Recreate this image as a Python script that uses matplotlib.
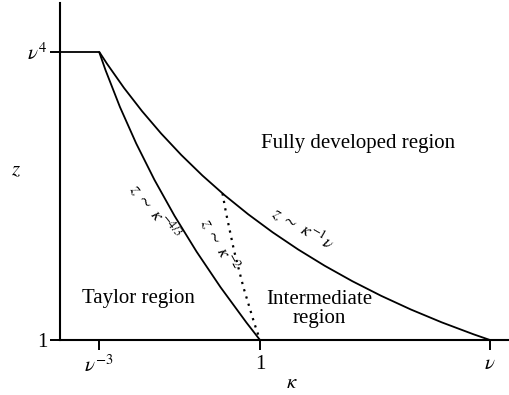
import matplotlib
matplotlib.use("Agg")
import matplotlib.pyplot as plt
from matplotlib.path import Path
from matplotlib.patches import PathPatch

plt.rcParams["font.family"] = ["Liberation Serif", "DejaVu Serif"]
plt.rcParams["mathtext.fontset"] = "stix"

# schematic positions on the kappa / z axes (not to scale)
KAPPA_TICKS = [0.39, 2.0, 4.30]
KAPPA_LABELS = [r"$\nu^{-3}$", "1", r"$\nu$"]
Z_TICKS = [0.0, 2.885]
Z_LABELS = ["1", r"$\nu^4$"]

# quadratic Bezier (start, control, end) for each boundary
PLATEAU = ([0.0, 0.39], [2.885, 2.885])
TAYLOR_EDGE = [(0.39, 2.885), (0.89, 1.40), (2.0, 0.0)]      # z ~ kappa^-4/3
OUTER_EDGE = [(0.39, 2.885), (1.66, 0.89), (4.30, 0.0)]      # z ~ kappa^-1 nu
INNER_EDGE = [(1.625, 1.466), (1.76, 0.68), (2.0, 0.0)]      # z ~ kappa^-2

REGIONS = [
    ("Fully developed region", 2.98, 1.97),
    ("Taylor region", 0.78, 0.42),
    ("Intermediate\nregion", 2.59, 0.31),
]
SLOPE_LABELS = [
    (r"$z\ \sim\ \kappa^{-4/3}$", 0.95, 1.28, -51),
    (r"$z\ \sim\ \kappa^{-2}$", 1.60, 0.95, -61),
    (r"$z\ \sim\ \kappa^{-1}\nu$", 2.43, 1.12, -30),
]


def bezier(ax, pts, **kw):
    path = Path(pts, [Path.MOVETO, Path.CURVE3, Path.CURVE3])
    ax.add_patch(PathPatch(path, fill=False, **kw))


fig = plt.figure(figsize=(5.1, 3.95), dpi=100)
ax = fig.add_axes([60 / 510, 55 / 395, 450 / 510, 337 / 395])
ax.set_xlim(0, 4.5)
ax.set_ylim(0, 3.37)

ax.plot(*PLATEAU, color="black", lw=1.3, solid_capstyle="butt")
bezier(ax, TAYLOR_EDGE, color="black", lw=1.3)
bezier(ax, OUTER_EDGE, color="black", lw=1.3)
bezier(ax, INNER_EDGE, color="black", lw=1.6, linestyle=(0, (1, 2.4)))

for txt, x, y in REGIONS:
    ax.text(x, y, txt, ha="center", va="center", fontsize=15,
            multialignment="center", linespacing=1.05)
for txt, x, y, rot in SLOPE_LABELS:
    ax.text(x, y, txt, ha="center", va="center", fontsize=13,
            rotation=rot, rotation_mode="anchor")

for side in ["top", "right"]:
    ax.spines[side].set_visible(False)
for side in ["left", "bottom"]:
    ax.spines[side].set_linewidth(1.5)

ax.set_xticks(KAPPA_TICKS, KAPPA_LABELS)
ax.set_yticks(Z_TICKS, Z_LABELS)
ax.tick_params(axis="both", length=7, width=1.4, labelsize=15)
ax.tick_params(axis="x", pad=4)
ax.tick_params(axis="y", pad=2)

ax.text(2.32, -0.44, r"$\kappa$", ha="center", va="center", fontsize=15,
        clip_on=False)
ax.text(-0.44, 1.69, r"$z$", ha="center", va="center", fontsize=15,
        clip_on=False)

fig.savefig("out.png", dpi=100, facecolor="white")
